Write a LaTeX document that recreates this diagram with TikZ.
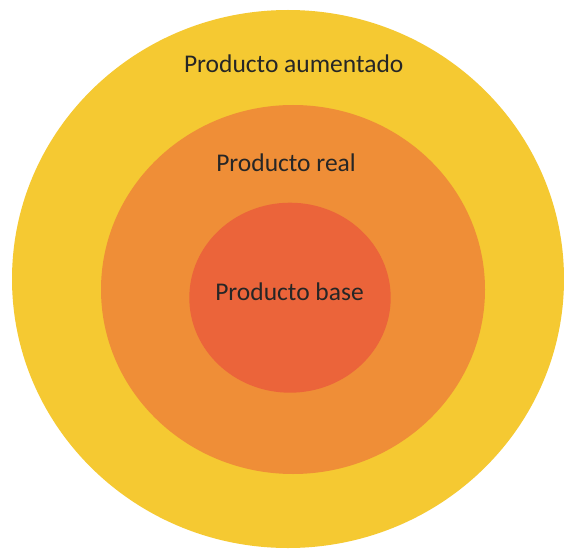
\documentclass[tikz,border=0pt]{standalone}
\usepackage{fontspec}
\setmainfont{Carlito}
\definecolor{outerY}{RGB}{245,201,50}
\definecolor{midO}{RGB}{239,142,55}
\definecolor{innerR}{RGB}{235,100,58}
\begin{document}
\begin{tikzpicture}[x=1pt,y=-1pt,
  ring/.style={draw=none},
  lbl/.style={anchor=base,inner sep=0pt,text=black!85,font=\fontsize{25.5}{30}\selectfont}]
\fill[white] (0,0) rectangle (564,548);
\useasboundingbox (0,0) rectangle (564,548);
\fill[ring,outerY] (288,279) ellipse [x radius=276, y radius=269];
\fill[ring,midO] (293,289.5) ellipse [x radius=192, y radius=184.5];
\fill[ring,innerR] (290,297.7) ellipse [x radius=100.7, y radius=95];
\node[lbl] (aum) at (293.7,72.3) {Producto aumentado};
\node[lbl] (real) at (286,171.7) {Producto real};
\node[lbl] (base) at (289.5,300) {Producto base};
\end{tikzpicture}
\end{document}
